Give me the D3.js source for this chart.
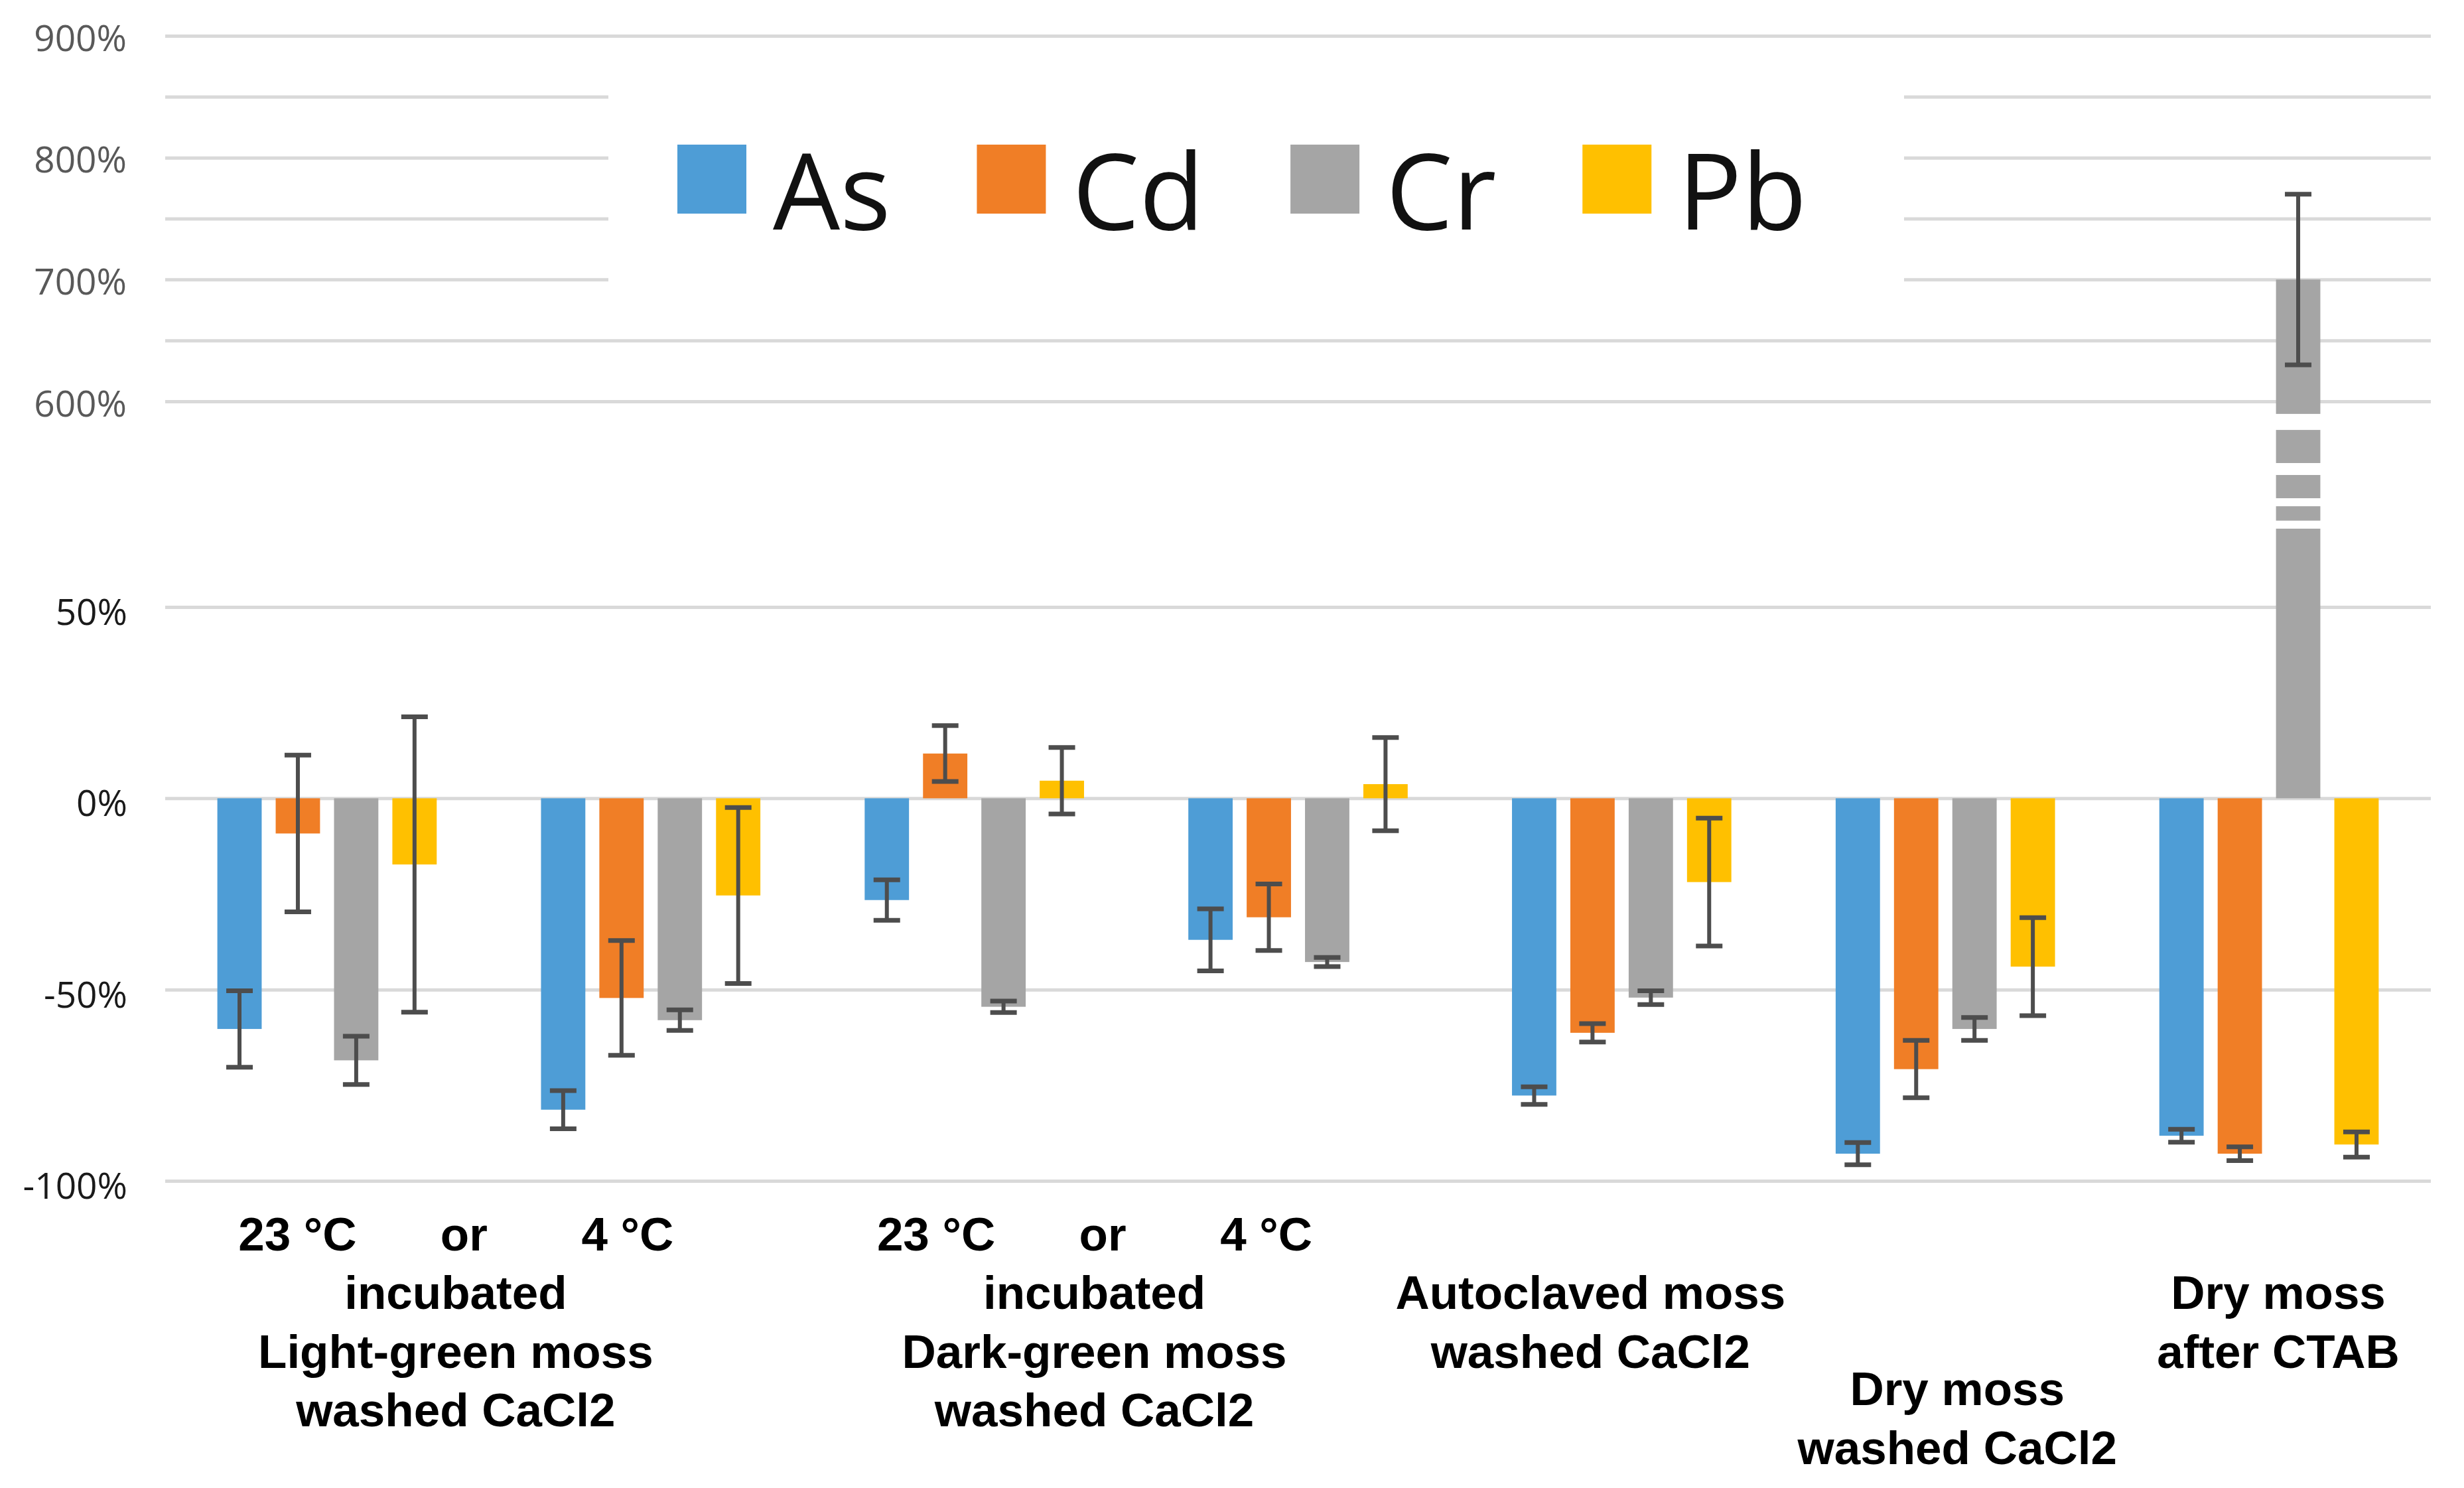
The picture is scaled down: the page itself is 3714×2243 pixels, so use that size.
<!DOCTYPE html>
<html>
<head>
<meta charset="utf-8">
<script src="https://cdn.jsdelivr.net/npm/d3@7"></script>
<style>
  body { margin: 0; background: #fff; }
  svg { display: block; }
</style>
</head>
<body>
<script>
// bar clusters, left to right
const clusters = ["LG 23", "LG 4", "DG 23", "DG 4", "Autoclaved", "Dry CaCl2", "Dry CTAB"];
const metals = ["As", "Cd", "Cr", "Pb"];
const metalColors = ["#4e9dd6", "#f07e26", "#a5a5a5", "#ffc000"];

// mean change (%) and error (+/- %) per cluster
const asValues = [-60.3, -81.4, -26.6, -37.0, -77.7, -92.9, -88.2];
const asErrors = [10, 5, 5.3, 8.1, 2.3, 2.9, 1.7];
const cdValues = [-9.2, -52.2, 11.7, -31.1, -61.3, -70.8, -92.9];
const cdErrors = [20.5, 15, 7.3, 8.7, 2.4, 7.5, 1.8];
const crValues = [-68.5, -58.0, -54.5, -42.8, -52.1, -60.3, 700];
const crErrors = [6.3, 2.7, 1.5, 1.2, 1.8, 3, 70];
const pbValues = [-17.3, -25.4, 4.6, 3.7, -21.9, -44.0, -90.5];
const pbErrors = [38.6, 23, 8.7, 12.2, 16.7, 12.8, 3.3];

// broken y axis: two parts
const upperTicks = [600, 700, 800, 900];
const upperGrid = [600, 650, 700, 750, 800, 850, 900];
const lowerTicks = [-100, -50, 0, 50];

// category text under the axis
const tempLabels = ["23 °C", "or", "4 °C"];
const groupLabels = [
  ["incubated", "Light-green moss", "washed CaCl2"],
  ["incubated", "Dark-green moss", "washed CaCl2"],
  ["Autoclaved moss", "washed CaCl2"],
  ["Dry moss", "washed CaCl2"],
  ["Dry moss", "after CTAB"]
];
// which clusters each label sits under
const groupClusters = [[0, 1], [2, 3], [4], [5], [6]];

const width = 3714, height = 2243;
const plot = { left: 249, right: 3664 };

const svg = d3.select("body").append("svg")
  .attr("width", width)
  .attr("height", height);

svg.append("rect").attr("width", width).attr("height", height).attr("fill", "#fff");

const yLow = d3.scaleLinear().domain([-100, 50]).range([1780, 915]);
const yHigh = d3.scaleLinear().domain([600, 900]).range([605, 54]);
const yOf = (v) => (v > 50 ? yHigh(v) : yLow(v));

const x0 = d3.scaleBand()
  .domain(clusters)
  .range([plot.left, plot.right])
  .paddingInner(0.279)
  .paddingOuter(0.1395);
const x1 = d3.scaleBand()
  .domain(metals)
  .range([0, x0.bandwidth()])
  .paddingInner(0.24)
  .paddingOuter(0.12);
const color = d3.scaleOrdinal().domain(metals).range(metalColors);

// gridlines
const gridW = plot.right - plot.left;
svg.append("g")
  .attr("transform", `translate(${plot.left},0)`)
  .call(d3.axisLeft(yHigh).tickValues(upperGrid).tickSize(-gridW).tickFormat(""))
  .call((g) => g.select(".domain").remove())
  .call((g) => g.selectAll("line").attr("stroke", "#d9d9d9").attr("stroke-width", 5));
svg.append("g")
  .attr("transform", `translate(${plot.left},0)`)
  .call(d3.axisLeft(yLow).tickValues(lowerTicks).tickSize(-gridW).tickFormat(""))
  .call((g) => g.select(".domain").remove())
  .call((g) => g.selectAll("line").attr("stroke", "#d9d9d9").attr("stroke-width", 5));

// tick labels
svg.append("g")
  .attr("transform", `translate(${plot.left},0)`)
  .call(d3.axisLeft(yHigh).tickValues(upperTicks).tickSize(0).tickPadding(58).tickFormat((d) => d + "%"))
  .call((g) => g.select(".domain").remove())
  .call((g) => g.selectAll("text")
    .attr("font-family", "'Open Sans', sans-serif")
    .attr("font-size", 55)
    .attr("fill", "#595959")
    .attr("dy", "0.4em"));
svg.append("g")
  .attr("transform", `translate(${plot.left},0)`)
  .call(d3.axisLeft(yLow).tickValues(lowerTicks).tickSize(0).tickPadding(57).tickFormat((d) => d + "%"))
  .call((g) => g.select(".domain").remove())
  .call((g) => g.selectAll("text")
    .attr("font-family", "'Open Sans', sans-serif")
    .attr("font-size", 55)
    .attr("fill", "#1a1a1a")
    .attr("dy", "0.48em"));

// legend, with white box over the gridlines
svg.append("rect")
  .attr("x", 917).attr("y", 90)
  .attr("width", 2870 - 917).attr("height", 375)
  .attr("fill", "#fff");
const legend = svg.append("g");
let lx = 1021;
metals.forEach((m) => {
  legend.append("rect")
    .attr("x", lx).attr("y", 218)
    .attr("width", 104).attr("height", 104)
    .attr("fill", color(m));
  const t = legend.append("text")
    .attr("x", lx + 144).attr("y", 346)
    .attr("font-family", "'Open Sans', sans-serif")
    .attr("font-size", 160)
    .attr("fill", "#111")
    .text(m);
  lx += 144 + t.node().getComputedTextLength() + 130;
});

// bars
const rows = clusters.map((c, i) => ({
  cluster: c,
  items: [
    { metal: "As", v: asValues[i], e: asErrors[i] },
    { metal: "Cd", v: cdValues[i], e: cdErrors[i] },
    { metal: "Cr", v: crValues[i], e: crErrors[i] },
    { metal: "Pb", v: pbValues[i], e: pbErrors[i] }
  ]
}));

const groups = svg.append("g")
  .selectAll("g")
  .data(rows)
  .join("g")
  .attr("transform", (d) => `translate(${x0(d.cluster)},0)`);

groups.selectAll("rect")
  .data((d) => d.items)
  .join("rect")
  .attr("x", (d) => x1(d.metal))
  .attr("width", x1.bandwidth())
  .attr("y", (d) => Math.min(yOf(d.v), yLow(0)))
  .attr("height", (d) => Math.abs(yLow(0) - yOf(d.v)))
  .attr("fill", (d) => color(d.metal));

// break marks across bars that pass the axis gap
const breakTop = yHigh(600), breakBottom = yLow(50);
const breakStripes = [[0.061, 0.139], [0.3, 0.358], [0.471, 0.51], [0.58, 0.619]];
groups.each(function (d) {
  d.items.filter((it) => it.v > 50).forEach((it) => {
    breakStripes.forEach(([a, b]) => {
      d3.select(this).append("rect")
        .attr("x", x1(it.metal) - 2)
        .attr("width", x1.bandwidth() + 4)
        .attr("y", breakTop + a * (breakBottom - breakTop))
        .attr("height", (b - a) * (breakBottom - breakTop))
        .attr("fill", "#fff");
    });
  });
});

// error bars
const capW = 40;
groups.each(function (d) {
  const g = d3.select(this);
  d.items.forEach((it) => {
    const cx = x1(it.metal) + x1.bandwidth() / 2;
    const yTop = yOf(it.v + it.e), yBot = yOf(it.v - it.e);
    const eb = g.append("g").attr("stroke", "#4d4d4d").attr("stroke-width", 7);
    eb.append("line").attr("x1", cx).attr("x2", cx).attr("y1", yTop).attr("y2", yBot).attr("stroke-width", 6);
    eb.append("line").attr("x1", cx - capW / 2).attr("x2", cx + capW / 2).attr("y1", yTop).attr("y2", yTop);
    eb.append("line").attr("x1", cx - capW / 2).attr("x2", cx + capW / 2).attr("y1", yBot).attr("y2", yBot);
  });
});

// category labels
const labelFont = "'Liberation Sans', Arial, sans-serif";
const lineH = 88.5;
const labelShift = [-50, -63, -47, 18, 14];
const labelBase = [1973, 1973, 1973, 2118, 1973];
const tempShift = [-238.5, 12.5, 259];

const labels = svg.append("g")
  .attr("font-family", labelFont)
  .attr("font-size", 71)
  .attr("font-weight", "bold")
  .attr("fill", "#000")
  .attr("text-anchor", "middle");

groupLabels.forEach((lines, k) => {
  const cs = groupClusters[k].map((i) => x0(clusters[i]) + x0.bandwidth() / 2);
  const cx = d3.mean(cs) + labelShift[k];
  if (cs.length > 1) {
    tempLabels.forEach((t, j) => {
      labels.append("text")
        .attr("x", cx + tempShift[j])
        .attr("y", labelBase[k] - lineH)
        .text(t);
    });
  }
  lines.forEach((line, j) => {
    labels.append("text")
      .attr("x", cx)
      .attr("y", labelBase[k] + j * lineH)
      .text(line);
  });
});
</script>
</body>
</html>
